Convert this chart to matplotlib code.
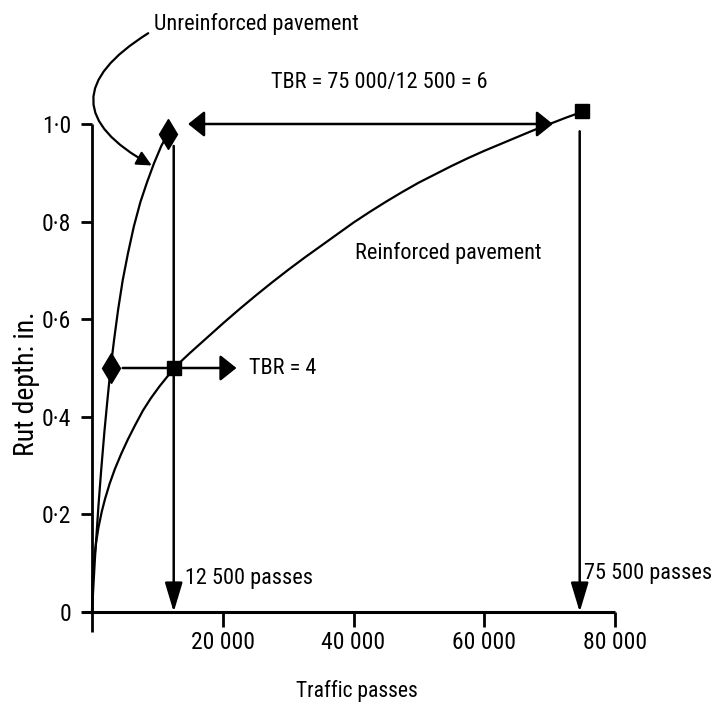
import matplotlib
matplotlib.use("Agg")
import matplotlib.pyplot as plt
from matplotlib import font_manager

# ---- data ----
unreinf_x = [0, 200, 450, 700, 1000, 1400, 1900, 2400, 2850, 3400, 4000, 4700,
             5500, 6400, 7400, 8400, 9500, 10600, 11600]
unreinf_y = [0, 0.05, 0.11, 0.16, 0.22, 0.29, 0.37, 0.44, 0.50, 0.56, 0.62, 0.68,
             0.735, 0.79, 0.84, 0.88, 0.92, 0.955, 0.98]

reinf_x = [0, 100, 300, 600, 1000, 1500, 2000, 2700, 3500, 4500, 5500, 6600,
           7800, 9000, 10300, 11500, 12600, 13800, 15000, 17500, 20000, 22500,
           25000, 27500, 30000, 32500, 35000, 37500, 40000, 42500, 45000, 47500,
           50000, 52500, 55000, 57500, 60000, 62500, 65000, 67500, 70000, 72500,
           75000]
reinf_y = [0, 0.066, 0.105, 0.14, 0.174, 0.206, 0.232, 0.263, 0.293, 0.325, 0.354,
           0.383, 0.413, 0.438, 0.462, 0.482, 0.50, 0.516, 0.531, 0.561, 0.591,
           0.620, 0.648, 0.675, 0.701, 0.726, 0.750, 0.774, 0.798, 0.820, 0.841,
           0.861, 0.880, 0.897, 0.914, 0.930, 0.945, 0.959, 0.973, 0.987, 1.000,
           1.013, 1.025]

diamond_x = [2850, 11600]
diamond_y = [0.50, 0.98]
square_x = [12600, 75000]
square_y = [0.50, 1.027]

x_ticks = [20000, 40000, 60000, 80000]
x_tick_labels = ["20 000", "40 000", "60 000", "80 000"]
y_ticks = [0, 0.2, 0.4, 0.6, 0.8, 1.0]
y_tick_labels = ["0", "0·2", "0·4", "0·6", "0·8", "1·0"]

# ---- pick a narrow font if one is installed ----
fams = {}
for f in font_manager.fontManager.ttflist:
    fams.setdefault(f.name, set()).add(str(f.stretch))
chosen = None
stretch = 'normal'
for cand in ['Liberation Sans Narrow', 'Arial Narrow', 'Nimbus Sans Narrow',
             'Roboto Condensed', 'Open Sans Condensed', 'Noto Sans Condensed',
             'DejaVu Sans Condensed']:
    if cand in fams:
        chosen = cand
        break
if chosen is None:
    for fam in ['Liberation Sans', 'Roboto', 'Noto Sans', 'Open Sans', 'DejaVu Sans', 'Lato', 'Inter']:
        st = fams.get(fam, set())
        if any(s in ('condensed', 'semi-condensed', 'extra-condensed') or
               (s.isdigit() and int(s) < 500) for s in st):
            chosen = fam
            stretch = 'condensed'
            break
scale = 1.0
if chosen is None:
    chosen = 'Liberation Sans'
    scale = 0.84
plt.rcParams['font.family'] = [chosen, 'DejaVu Sans']
plt.rcParams['font.stretch'] = stretch

fig = plt.figure(figsize=(7.21, 7.13), dpi=100)
ax = fig.add_axes([92/721, 101/713, 523/721, 488/713])
ax.set_xlim(0, 80000)
ax.set_ylim(0, 1.0)
for s in ax.spines.values():
    s.set_visible(False)

# axes lines
ax.plot([-1600, 80000], [0, 0], color='black', lw=2.2, clip_on=False, solid_capstyle='butt')
ax.plot([0, 0], [-0.04, 1.0], color='black', lw=2.0, clip_on=False, solid_capstyle='butt')

tfs = 17 * scale
ax.set_xticks(x_ticks)
ax.set_xticklabels(x_tick_labels)
ax.set_yticks(y_ticks)
ax.set_yticklabels(y_tick_labels)
ax.tick_params(axis='x', direction='out', length=11, width=2, pad=3, labelsize=tfs)
ax.tick_params(axis='y', direction='out', length=8, width=2, pad=7, labelsize=tfs)

# curves
ax.plot(unreinf_x, unreinf_y, color='black', lw=1.6, clip_on=False)
ax.plot(reinf_x, reinf_y, color='black', lw=1.6, clip_on=False)
ax.plot(diamond_x, diamond_y, linestyle='none', marker='d', markersize=15,
        color='black', clip_on=False)
ax.plot(square_x, square_y, linestyle='none', marker='s', markersize=10,
        color='black', clip_on=False)

apv = dict(arrowstyle='-|>,head_length=0.9,head_width=0.27', color='black', lw=1.8,
           mutation_scale=20, shrinkA=0, shrinkB=0)
aph = dict(arrowstyle='-|>,head_length=0.5,head_width=0.4', color='black', lw=1.8,
           mutation_scale=20, shrinkA=0, shrinkB=0)
# vertical arrows
ax.annotate('', xy=(12500, 0.0), xytext=(12500, 0.955), arrowprops=apv, annotation_clip=False)
ax.annotate('', xy=(74600, 0.0), xytext=(74600, 0.985), arrowprops=apv, annotation_clip=False)
# TBR = 4 arrow
ax.annotate('', xy=(22100, 0.5), xytext=(4700, 0.5), arrowprops=aph, annotation_clip=False)
# double arrow at top
ap2 = dict(aph)
ap2['arrowstyle'] = '<|-|>,head_length=0.5,head_width=0.4'
ax.annotate('', xy=(70500, 1.0), xytext=(14700, 1.0), arrowprops=ap2, annotation_clip=False)

# curved pointer for unreinforced
ax.annotate('', xy=(9150, 0.915), xytext=(8600, 1.186),
            arrowprops=dict(arrowstyle='-|>,head_length=0.45,head_width=0.22', color='black',
                            lw=1.6, mutation_scale=20, shrinkA=0, shrinkB=0,
                            connectionstyle='arc3,rad=0.85'),
            annotation_clip=False)

fs = 16 * scale
ax.text(9500, 1.205, 'Unreinforced pavement', fontsize=fs, ha='left', va='center')
ax.text(44000, 1.085, 'TBR = 75 000/12 500 = 6', fontsize=fs, ha='center', va='center')
ax.text(40200, 0.735, 'Reinforced pavement', fontsize=fs, ha='left', va='center')
ax.text(24000, 0.5, 'TBR = 4', fontsize=fs, ha='left', va='center')
ax.text(14300, 0.068, '12 500 passes', fontsize=fs, ha='left', va='center')
ax.text(75300, 0.078, '75 500 passes', fontsize=fs, ha='left', va='center')

ax.set_xlabel('Traffic passes', fontsize=15.5 * scale)
ax.xaxis.set_label_coords(0.507, -0.139)
ax.set_ylabel('Rut depth: in.', fontsize=20 * scale)
ax.yaxis.set_label_coords(-0.099, 0.467)

fig.savefig('out.png', dpi=100)
